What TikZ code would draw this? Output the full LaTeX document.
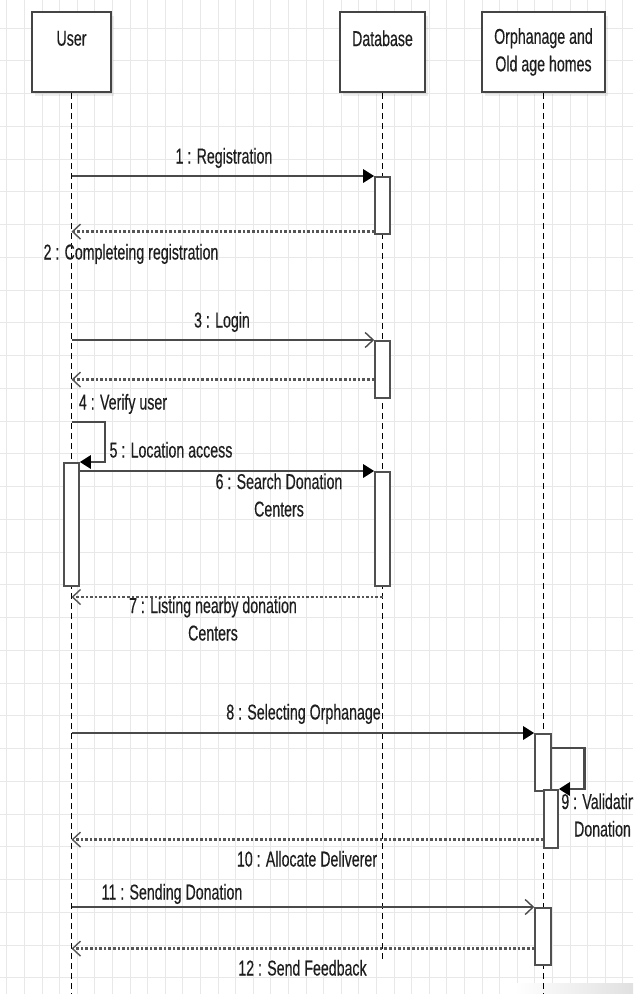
\documentclass[tikz,border=0pt]{standalone}
\usepackage{fontspec}
\setmainfont{Liberation Sans}[FakeStretch=0.66,FakeBold=0.35]
\usetikzlibrary{arrows.meta,calc,shadows}
\definecolor{gridc}{HTML}{E8E8E8}
\definecolor{boxc}{HTML}{444444}
\definecolor{actc}{HTML}{505050}
\definecolor{linec}{HTML}{4A4A4A}
\definecolor{replyc}{HTML}{555555}
\definecolor{txt}{HTML}{1E1E1E}
\begin{document}
\begin{tikzpicture}[x=1pt,y=-1pt,
  every node/.style={font=\fontsize{21.5}{27.5}\selectfont, text=txt},
  participant/.style={draw=boxc, line width=2pt, fill=white, minimum height=80pt,
    align=center, inner sep=0pt,
    drop shadow={shadow xshift=3pt, shadow yshift=-4pt, fill=black, opacity=0.07}},
  lifeline/.style={draw=black, line width=1pt, dash pattern=on 6pt off 4pt},
  act/.style={draw=actc, line width=1.6pt, fill=white, minimum width=15pt, inner sep=0pt, anchor=north},
  msgline/.style={draw=linec, line width=2.8pt},
  sync/.style={msgline, -{Triangle[length=11pt,width=13pt,color=black]}},
  async/.style={msgline, -{Straight Barb[length=8pt,width=15pt,line width=1.4pt]}},
  reply/.style={draw=replyc, line width=2.4pt, dash pattern=on 2.6pt off 2pt,
    -{Straight Barb[length=8pt,width=15pt,line width=1.4pt]}},
  lbl/.style={inner sep=0pt, align=center, text height=16pt, text depth=5pt}
]
\useasboundingbox (0,0) rectangle (633,994);
\clip (0,0) rectangle (633,994);
\fill[white] (0,0) rectangle (633,994);
% background grid
\foreach \k in {0,...,36} \draw[gridc, line width=0.8pt] ({6.7+17.6*\k},0) -- ({6.7+17.6*\k},994);
\foreach \k in {0,...,30} \draw[gridc, line width=0.8pt] (0,{28+32.75*\k}) -- (633,{28+32.75*\k});
\fill[left color=white, right color=black!12] (515,983) rectangle (633,994);

% participants
\node[participant, minimum width=79pt] (user) at (71.5,52) {User\\\mbox{}};
\node[participant, minimum width=85pt] (db) at (382.5,52) {Database\\\mbox{}};
\node[participant, minimum width=123pt] (orph) at (543.5,52) {Orphanage and\\Old age homes};

% lifelines
\coordinate (userEnd) at (71.5,994);
\coordinate (dbEnd) at (382.5,960);
\coordinate (orphEnd) at (543.5,994);
\draw[lifeline] (user.south) -- (userEnd);
\draw[lifeline] (db.south) -- (dbEnd);
\draw[lifeline] (orph.south) -- (orphEnd);

% activations
\node[act, minimum height=57pt] (a1) at (382.5,176) {};
\node[act, minimum height=57pt] (a2) at (382.5,340) {};
\node[act, minimum height=123pt] (ua) at (71.5,462) {};
\node[act, minimum height=114pt] (a3) at (382.5,471) {};
\node[act, minimum width=16pt, minimum height=57pt] (o1) at (543,733) {};
\node[act, minimum width=14pt, minimum height=58pt] (o2) at (551,789) {};
\node[act, minimum width=16pt, minimum height=57pt] (o3) at (543,907) {};

% messages
\draw[sync] (user |- a1.north) -- (a1.north west);
\coordinate (r2) at ($(a1.south west)+(0,-3)$);
\draw[reply] (r2) -- (user |- r2);

\draw[async] (user |- a2.north) -- (a2.north west);
\coordinate (r4) at ($(a2.south west)+(0,-19)$);
\draw[reply] (r4) -- (user |- r4);

\coordinate (s5) at (71.5,422);
\draw[sync] (s5) -- ++(33.5,0) |- (ua.north east);

\draw[sync] (ua.east |- a3.north) -- (a3.north west);
\coordinate (r7) at (382.5,597);
\draw[reply] (r7) -- (user |- r7);

\draw[sync] (user |- o1.north) -- (o1.north west);
\draw[sync] ($(o1.north east)+(0,15)$) -- ++(33,0) |- (o2.north east);
\coordinate (r10) at ($(o2.south west)+(0,-9)$);
\draw[reply] (r10) -- (user |- r10);

\draw[async] (user |- o3.north) -- (o3.north west);
\coordinate (r12) at ($(o3.south west)+(0,-17)$);
\draw[reply] (r12) -- (user |- r12);

% labels
\node[lbl] (l1) at (224,158) {1 : Registration};
\node[lbl] (l2) at (131,254) {2 : Completeing registration};
\node[lbl] (l3) at (222,322) {3 : Login};
\node[lbl] (l4) at (123,404) {4 : Verify user};
\node[lbl] (l5) at (171,452) {5 : Location access};
\node[lbl] (l6) at (279,511) {6 : Search Donation\\Centers};
\node[lbl] (l7) at (213,635) {7 : Listing nearby donation\\Centers};
\node[lbl] (l8) at (303.5,714) {8 : Selecting Orphanage};
\node[lbl] (l9) at (602.5,831) {9 : Validating\\Donation};
\node[lbl] (l10) at (307,861) {10 : Allocate Deliverer};
\node[lbl] (l11) at (172,894) {11 : Sending Donation};
\node[lbl] (l12) at (302.5,970) {12 : Send Feedback};
\end{tikzpicture}
\end{document}
